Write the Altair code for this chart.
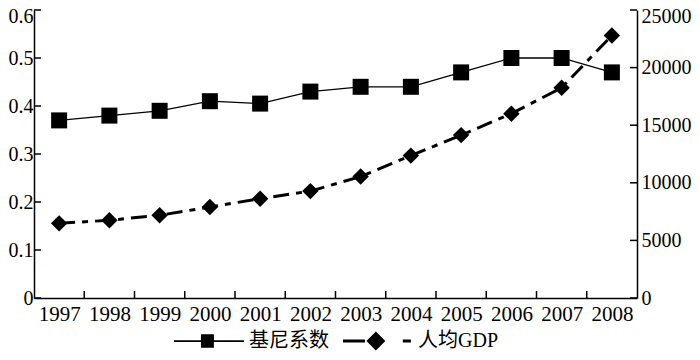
import altair as alt
import pandas as pd

years = list(range(1997, 2009))
gini = [0.37, 0.38, 0.39, 0.41, 0.405, 0.43, 0.44, 0.44, 0.47, 0.50, 0.50, 0.47]
gdp = [6480, 6750, 7180, 7900, 8620, 9280, 10540, 12360, 14140, 16000, 18250, 22790]
gini_ticks = [0, 0.1, 0.2, 0.3, 0.4, 0.5, 0.6]
gdp_ticks = [0, 5000, 10000, 15000, 20000, 25000]
series = ["基尼系数", "人均GDP"]

df = pd.DataFrame({"year": years, "gini": gini, "gdp": gdp})
year_bounds = [y + 0.5 for y in years[:-1]]

W, H = 603, 288
SERIF = "Liberation Serif"
CJK = "Liberation Serif, Noto Sans CJK SC"

x_scale = alt.Scale(domain=[years[0] - 0.5, years[-1] + 0.5], nice=False, zero=False)
yL = alt.Scale(domain=[0, 0.6], nice=False, zero=True)
yR = alt.Scale(domain=[0, 25000], nice=False, zero=True)

x_axis = alt.Axis(values=years, format="d", ticks=False, grid=False, title=None,
                  labelPadding=5, labelFontSize=21, labelFont=SERIF, labelColor="black",
                  domainColor="black", domainWidth=1.5, labelFlush=False, labelOverlap=False)
axL = alt.Axis(orient="left", values=gini_ticks, format="~g", ticks=False, grid=False,
               title=None, labelPadding=1, labelFontSize=20, labelFont=SERIF,
               labelColor="black", domainColor="black", domainWidth=1.5, labelFlush=False,
               labelOffset={"condition": {"test": f"datum.value >= {max(gini_ticks)}", "value": 6}, "value": 0})
axR = alt.Axis(orient="right", values=gdp_ticks, format="d", ticks=False, grid=False,
               title=None, labelPadding=4, labelFontSize=20, labelFont=SERIF,
               labelColor="black", domainColor="black", domainWidth=1.5, labelFlush=False,
               labelOffset={"condition": {"test": f"datum.value >= {max(gdp_ticks)}", "value": 6}, "value": 0})

x_enc = alt.X("year:Q", scale=x_scale, axis=x_axis)
base = alt.Chart(df)

gdp_line = base.mark_line(color="black", strokeWidth=3, strokeDash=[16, 7, 6, 7]).encode(
    x=x_enc, y=alt.Y("gdp:Q", scale=yR, axis=axR))
gini_line = base.mark_line(color="black", strokeWidth=1.3).encode(
    x=x_enc, y=alt.Y("gini:Q", scale=yL, axis=axL))
gdp_pts = base.mark_point(shape="diamond", filled=True, size=270, color="black", opacity=1).encode(
    x=x_enc, y=alt.Y("gdp:Q", scale=yR, axis=None))
gini_pts = base.mark_point(shape="square", filled=True, size=256, color="black", opacity=1).encode(
    x=x_enc, y=alt.Y("gini:Q", scale=yL, axis=None))
left_ticks = alt.Chart(pd.DataFrame({"v": gini_ticks})).mark_rule(color="black", strokeWidth=1.5).encode(
    y=alt.Y("v:Q", scale=yL, axis=None), x=alt.value(0), x2=alt.value(7))
right_ticks = alt.Chart(pd.DataFrame({"v": gdp_ticks})).mark_rule(color="black", strokeWidth=1.5).encode(
    y=alt.Y("v:Q", scale=yR, axis=None), x=alt.value(W), x2=alt.value(W - 7))
bottom_ticks = alt.Chart(pd.DataFrame({"year": year_bounds})).mark_rule(color="black", strokeWidth=1.5).encode(
    x=x_enc, y=alt.value(H), y2=alt.value(H - 7))

path_gini = "M-1,-0.025H1V0.025H-1Z M-0.23,-0.19H0.14V0.19H-0.23Z"
path_gdp = ("M-1,-0.045H-0.37V0.045H-1Z M-0.33,0L-0.06,-0.27L0.21,0L-0.06,0.27Z "
            "M0.71,-0.045H0.94V0.045H0.71Z")

legend_layer = alt.Chart(pd.DataFrame({"s": series})).mark_point(filled=True, opacity=0, color="black").encode(
    shape=alt.Shape("s:N", scale=alt.Scale(domain=series, range=[path_gini, path_gdp]),
                    sort=series,
                    legend=alt.Legend(orient="none", legendX=140, legendY=296, direction="horizontal",
                                      title=None, symbolSize=4900, symbolFillColor="black",
                                      symbolStrokeWidth=0, symbolOpacity=1, labelFont=CJK,
                                      labelFontSize=20, labelColor="black", labelOffset=5,
                                      columnPadding=14, padding=0, labelLimit=300)))

chart = alt.layer(
    gdp_line, gini_line, gdp_pts, gini_pts, left_ticks, right_ticks, bottom_ticks, legend_layer
).resolve_scale(y="independent").properties(
    width=W, height=H,
    autosize=alt.AutoSizeParams(type="none"),
    padding={"left": 26, "top": 2, "right": 55, "bottom": 54},
    background="white",
).configure_view(stroke=None)

chart.save("out.html", embed_options={"renderer": "svg", "actions": False})
